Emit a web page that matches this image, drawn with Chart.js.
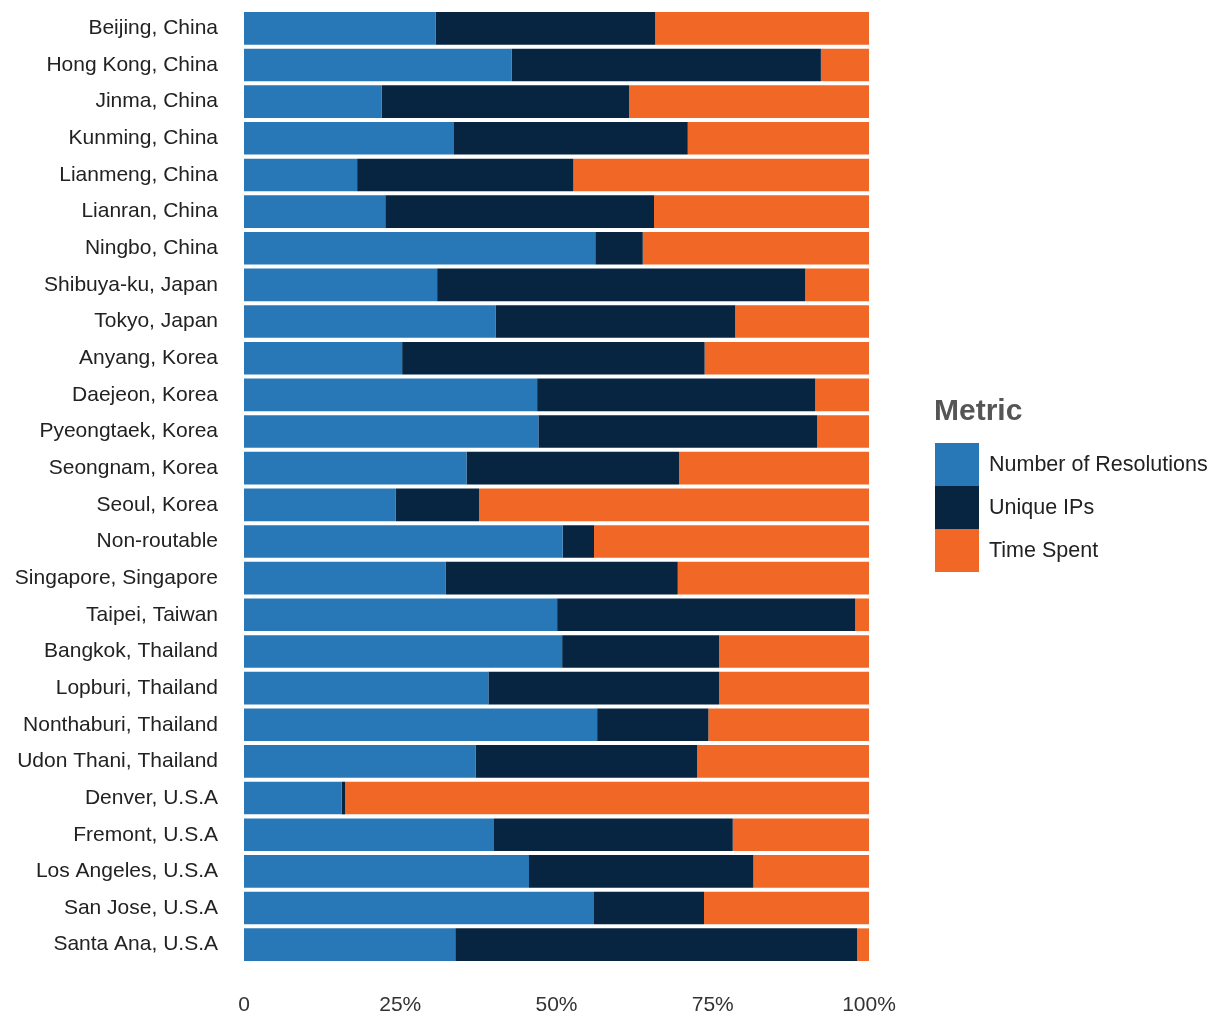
<!DOCTYPE html>
<html>
<head>
<meta charset="utf-8">
<script src="https://cdn.jsdelivr.net/npm/chart.js@4"></script>
<style>
  html, body { margin: 0; padding: 0; background: #fff; }
  #wrap { position: relative; width: 1211px; height: 1015px; }
  canvas { position: absolute; left: 0; top: 0; }
  #legend { position: absolute; left: 934px; top: 392px; font-family: "Liberation Sans", Arial, sans-serif; }
  #legend .title { font-size: 30px; font-weight: bold; color: #555; height: 51px; line-height: 36px; }
  #legend .item { display: flex; align-items: center; height: 43px; }
  #legend .sw { width: 44px; height: 43px; margin-right: 10px; margin-left: 1px; }
  #legend .lbl { font-size: 21.5px; color: #222; white-space: nowrap; }
</style>
</head>
<body>
<div id="wrap">
  <canvas id="c" width="1211" height="1015"></canvas>
  <div id="legend"></div>
</div>
<script>
const categories = [
  "Beijing, China", "Hong Kong, China", "Jinma, China", "Kunming, China", "Lianmeng, China",
  "Lianran, China", "Ningbo, China", "Shibuya-ku, Japan", "Tokyo, Japan", "Anyang, Korea",
  "Daejeon, Korea", "Pyeongtaek, Korea", "Seongnam, Korea", "Seoul, Korea", "Non-routable",
  "Singapore, Singapore", "Taipei, Taiwan", "Bangkok, Thailand", "Lopburi, Thailand",
  "Nonthaburi, Thailand", "Udon Thani, Thailand", "Denver, U.S.A", "Fremont, U.S.A",
  "Los Angeles, U.S.A", "San Jose, U.S.A", "Santa Ana, U.S.A"
];
const seriesNames = ["Number of Resolutions", "Unique IPs", "Time Spent"];
const resolutions = [30.7, 42.8, 22.0, 33.6, 18.1, 22.6, 56.2, 30.9, 40.3, 25.3, 46.9, 47.1, 35.6, 24.3, 51.0, 32.3, 50.1, 50.9, 39.1, 56.5, 37.1, 15.6, 40.0, 45.6, 56.0, 33.8];
const uniqueIPs   = [35.1, 49.5, 39.6, 37.4, 34.6, 43.0, 7.6, 58.9, 38.3, 48.4, 44.5, 44.6, 34.0, 13.3, 5.0, 37.1, 47.7, 25.1, 36.9, 17.8, 35.4, 0.6, 38.2, 35.9, 17.6, 64.3];
const timeSpent   = [34.2, 7.7, 38.4, 29.0, 47.3, 34.4, 36.2, 10.2, 21.4, 26.3, 8.6, 8.3, 30.4, 62.4, 44.0, 30.6, 2.2, 24.0, 24.0, 25.7, 27.5, 83.8, 21.8, 18.5, 26.4, 1.9];
const xTicks = [0, 25, 50, 75, 100];
const xTickLabels = ["0", "25%", "50%", "75%", "100%"];
const colors = ["#2878B8", "#072541", "#F06726"];

const values = [resolutions, uniqueIPs, timeSpent];
const datasets = seriesNames.map((n, i) => ({
  label: n,
  data: values[i],
  backgroundColor: colors[i],
  borderWidth: 0,
  barPercentage: 0.89,
  categoryPercentage: 1.0
}));

const FONT = "'Liberation Sans', Arial, sans-serif";

new Chart(document.getElementById('c'), {
  type: 'bar',
  data: { labels: categories, datasets },
  options: {
    indexAxis: 'y',
    responsive: false,
    animation: false,
    layout: { padding: { top: 10, right: 342, left: 0, bottom: 0 } },
    plugins: { legend: { display: false }, tooltip: { enabled: false } },
    scales: {
      x: {
        stacked: true, min: 0, max: 100,
        grid: { display: false, drawTicks: false },
        border: { display: false },
        afterFit: s => { s.height = 52; s.paddingLeft = 0; s.paddingRight = 0; },
        afterBuildTicks: s => { s.ticks = xTicks.map(v => ({ value: v })); },
        ticks: {
          padding: 30,
          color: '#333',
          font: { family: FONT, size: 21 },
          callback: (v) => xTickLabels[xTicks.indexOf(v)]
        }
      },
      y: {
        stacked: true,
        grid: { display: false, drawTicks: false },
        border: { display: false },
        afterFit: s => { s.width = 244; s.paddingTop = 0; s.paddingBottom = 0; },
        ticks: {
          padding: 26,
          color: '#222',
          font: { family: FONT, size: 21 },
          autoSkip: false
        }
      }
    }
  }
});

const lg = document.getElementById('legend');
let html = '<div class="title">Metric</div>';
seriesNames.forEach((n, i) => {
  html += '<div class="item"><div class="sw" style="background:' + colors[i] + '"></div><div class="lbl">' + n + '</div></div>';
});
lg.innerHTML = html;
</script>
</body>
</html>
